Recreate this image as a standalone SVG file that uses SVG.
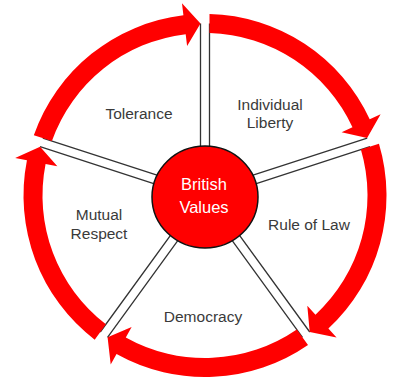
<svg xmlns="http://www.w3.org/2000/svg" xmlns:xlink="http://www.w3.org/1999/xlink" width="398" height="381" viewBox="0 0 398 381">
  <style>
    .arc { fill: #FF0000; stroke: none; }
    .spoke { stroke: #333333; stroke-width: 1.3; fill: none; }
    .lbl { font-family: "Liberation Sans", Arial, sans-serif; font-size: 15.5px; fill: #3a3a3a; text-anchor: middle; }
    .ctr { font-family: "Liberation Sans", Arial, sans-serif; font-size: 16.5px; fill: #ffffff; text-anchor: middle; }
  </style>
  <defs>
    <path id="arcShape" class="arc" d="M209.5,14.06 A181.5,181.5 0 0 1 369.72,119.28 L380.61,114.24 L367.13,138.08 L341.59,132.3 L352.48,127.26 A162.5,162.5 0 0 0 209.51,33.06 Z"/>
    <g id="spokeShape">
      <rect x="200.5" y="23.5" width="9" height="172" fill="#ffffff"/>
      <path class="spoke" d="M200.5,23.5 V195.5 M209.5,23.5 V195.5"/>
    </g>
  </defs>
  <rect width="398" height="381" fill="#ffffff"/>
  <g id="connectors">
    <g id="spokes">
      <use xlink:href="#spokeShape"/>
      <use xlink:href="#spokeShape" transform="rotate(72 205 195.5)"/>
      <use xlink:href="#spokeShape" transform="rotate(144 205 195.5)"/>
      <use xlink:href="#spokeShape" transform="rotate(216 205 195.5)"/>
      <use xlink:href="#spokeShape" transform="rotate(288 205 195.5)"/>
    </g>
    <g id="ring">
      <use xlink:href="#arcShape"/>
      <use xlink:href="#arcShape" transform="rotate(72 205 195.5)"/>
      <use xlink:href="#arcShape" transform="rotate(144 205 195.5)"/>
      <use xlink:href="#arcShape" transform="rotate(216 205 195.5)"/>
      <use xlink:href="#arcShape" transform="rotate(288 205 195.5)"/>
    </g>
  </g>
  <g id="british-values">
    <ellipse cx="205" cy="197" rx="53" ry="51" fill="#FF0000" stroke="#111111" stroke-width="1.5"/>
    <text class="ctr" x="204" y="190">British</text>
    <text class="ctr" x="204" y="213">Values</text>
  </g>
  <g id="tolerance">
    <text class="lbl" x="139" y="119">Tolerance</text>
  </g>
  <g id="individual-liberty">
    <text class="lbl" x="270" y="110">Individual</text>
    <text class="lbl" x="270" y="128">Liberty</text>
  </g>
  <g id="rule-of-law">
    <text class="lbl" x="309" y="230">Rule of Law</text>
  </g>
  <g id="democracy">
    <text class="lbl" x="203" y="322">Democracy</text>
  </g>
  <g id="mutual-respect">
    <text class="lbl" x="99" y="220">Mutual</text>
    <text class="lbl" x="99" y="239">Respect</text>
  </g>
</svg>
